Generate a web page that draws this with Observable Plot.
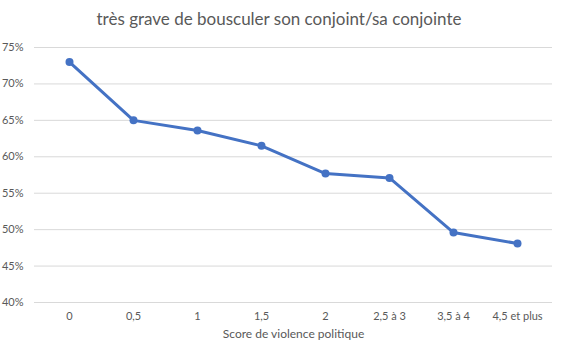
<!DOCTYPE html>
<html><head><meta charset="utf-8">
<script src="https://cdn.jsdelivr.net/npm/d3@7"></script>
<script src="https://cdn.jsdelivr.net/npm/@observablehq/plot@0.6"></script>
<style>
body{margin:0;background:#fff;font-family:Lato,"Open Sans",sans-serif;}
#title{height:36px;line-height:38px;text-align:center;color:#595959;font-size:17px;width:558px;}
</style></head>
<body>
<div id="title">très grave de bousculer son conjoint/sa conjointe</div>
<div id="chart"></div>
<script>
const categories = ["0","0,5","1","1,5","2","2,5 à 3","3,5 à 4","4,5 et plus"];
const values = [73.0, 65.0, 63.6, 61.5, 57.7, 57.1, 49.6, 48.1];
const yTicks = [40,45,50,55,60,65,70,75];
const xLabel = "Score de violence politique";
const data = categories.map((c,i)=>({cat:c, v:values[i]}));
const chart = Plot.plot({
  width:565, height:318,
  marginTop:11, marginBottom:52, marginLeft:34, marginRight:13,
  style:{fontFamily:"Lato, 'Open Sans', sans-serif", fontSize:"11px", color:"#595959", background:"#fff"},
  x:{type:"point", domain:categories, padding:0.5, label:null},
  y:{domain:[40,75], label:null},
  marks:[
    Plot.ruleY(yTicks, {stroke:"#d9d9d9", strokeWidth:1}),
    Plot.axisY({ticks:yTicks, tickSize:0, tickPadding:11, tickFormat:d=>d+"%", fill:"#595959", label:null}),
    Plot.axisX({tickSize:0, tickPadding:10, fill:"#595959", label:null}),
    Plot.line(data, {x:"cat", y:"v", stroke:"#4472C4", strokeWidth:3}),
    Plot.dot(data, {x:"cat", y:"v", fill:"#4472C4", r:4}),
    Plot.text([xLabel], {frameAnchor:"bottom", dy:35, text:d=>d, fill:"#595959", fontSize:12})
  ]
});
document.getElementById("chart").appendChild(chart);
</script>
</body></html>
